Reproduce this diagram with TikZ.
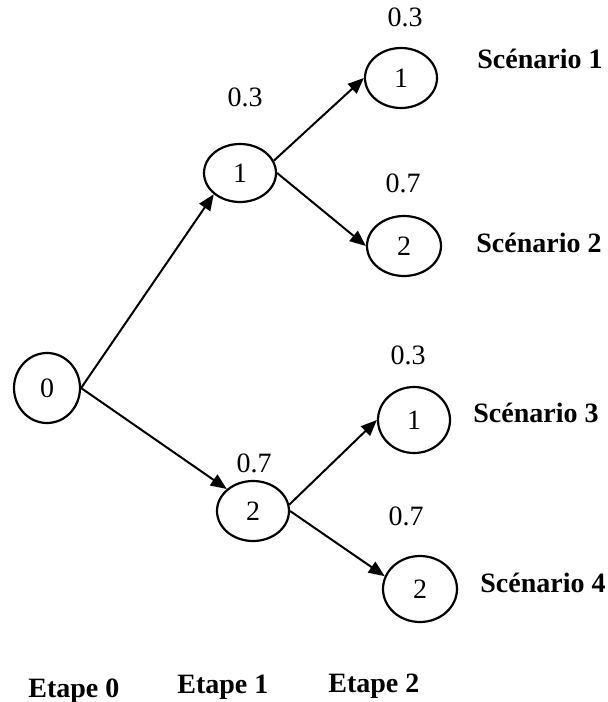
\documentclass[tikz,border=0pt]{standalone}
\usepackage{fontspec}
\setmainfont{Liberation Serif}
\usetikzlibrary{shapes.geometric,arrows.meta}
\begin{document}
\begin{tikzpicture}[x=0.5pt,y=-0.5pt,
  every node/.style={font=\fontsize{14}{16}\selectfont},
  st/.style={draw,ellipse,line width=1.1pt,inner sep=0pt},
  lab/.style={inner sep=0pt},
  scen/.style={inner sep=0pt,anchor=center,font=\fontsize{14}{16}\selectfont\bfseries},
  arr/.style={line width=1pt,-{Triangle[length=8pt,width=6.5pt]}}]
\useasboundingbox (0,0) rectangle (608,702);
\node[st,minimum width=33pt,minimum height=35pt] (n0) at (47,388) {0};
\node[st,minimum width=36pt,minimum height=29pt] (n1) at (240,173) {1};
\node[st,minimum width=36pt,minimum height=30pt] (n2) at (253,511) {2};
\node[st,minimum width=36pt,minimum height=30pt] (s1) at (401,78) {1};
\node[st,minimum width=37pt,minimum height=30pt] (s2) at (404,246) {2};
\node[st,minimum width=36pt,minimum height=33pt] (s3) at (414,420) {1};
\node[st,minimum width=37pt,minimum height=33pt] (s4) at (420,589) {2};
\draw[arr] (n0.east) -- (n1.south west);
\draw[arr] (n0.east) -- (n2.north west);
\draw[arr] (n1.20) -- (s1.west);
\draw[arr] (n1.east) -- (s2.west);
\draw[arr] (n2.10) -- (s3.west);
\draw[arr] (n2.east) -- (s4.160);
\node[lab] (p1) at (245,97) {0.3};
\node[lab] (p2) at (254,463) {0.7};
\node[lab] (q1) at (405,17) {0.3};
\node[lab] (q2) at (403,183) {0.7};
\node[lab] (q3) at (408,355) {0.3};
\node[lab] (q4) at (406,516) {0.7};
\node[scen] (c1) at (540,59) {Scénario 1};
\node[scen] (c2) at (539,243) {Scénario 2};
\node[scen] (c3) at (536,413) {Scénario 3};
\node[scen] (c4) at (543,583) {Scénario 4};
\node[scen,anchor=base west] (e0) at (28,697) {Etape 0};
\node[scen,anchor=base west] (e1) at (177,693) {Etape 1};
\node[scen,anchor=base west] (e2) at (328,692) {Etape 2};
\end{tikzpicture}
\end{document}
